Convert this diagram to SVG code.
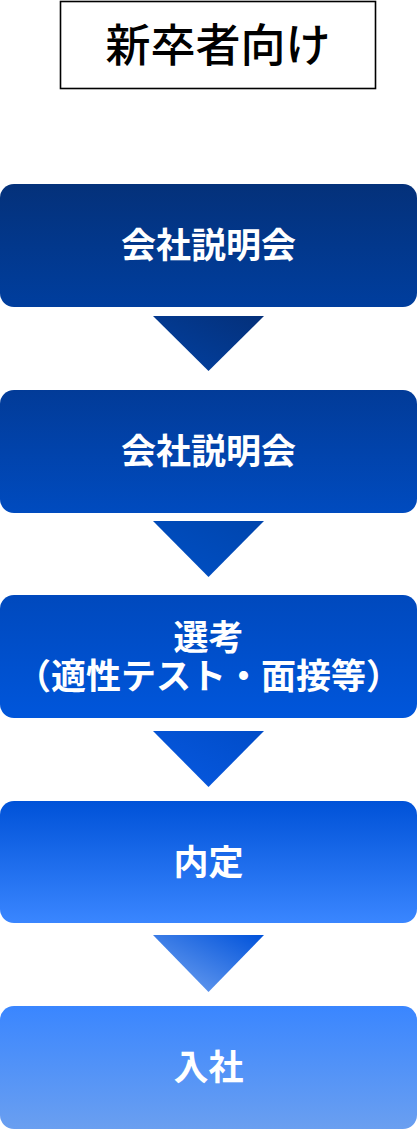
<svg xmlns="http://www.w3.org/2000/svg" width="417" height="1129" viewBox="0 0 417 1129">
<defs>
<linearGradient id="b1" x1="0" y1="0" x2="0" y2="1"><stop offset="0" stop-color="#04317a"/><stop offset="1" stop-color="#003e9e"/></linearGradient>
<linearGradient id="b2" x1="0" y1="0" x2="0" y2="1"><stop offset="0" stop-color="#023b98"/><stop offset="1" stop-color="#004bbf"/></linearGradient>
<linearGradient id="b3" x1="0" y1="0" x2="0" y2="1"><stop offset="0" stop-color="#0049bd"/><stop offset="1" stop-color="#0056db"/></linearGradient>
<linearGradient id="b4" x1="0" y1="0" x2="0" y2="1"><stop offset="0" stop-color="#0052d8"/><stop offset="1" stop-color="#3a86ff"/></linearGradient>
<linearGradient id="b5" x1="0" y1="0" x2="0" y2="1"><stop offset="0" stop-color="#3a86ff"/><stop offset="1" stop-color="#6a9ff0"/></linearGradient>
<linearGradient id="a1" x1="0" y1="1" x2="1" y2="0"><stop offset="0" stop-color="#0241a2"/><stop offset="1" stop-color="#04307a"/></linearGradient>
<linearGradient id="a2" x1="0" y1="1" x2="1" y2="0"><stop offset="0" stop-color="#0050c6"/><stop offset="1" stop-color="#0045ad"/></linearGradient>
<linearGradient id="a3" x1="0" y1="1" x2="1" y2="0"><stop offset="0" stop-color="#085ae2"/><stop offset="1" stop-color="#004cc8"/></linearGradient>
<linearGradient id="a4" x1="0" y1="1" x2="1" y2="0"><stop offset="0" stop-color="#76a6f2"/><stop offset="1" stop-color="#0052da"/></linearGradient>
</defs>
<style>
.lbl{font-family:"Noto Sans CJK JP","Noto Sans CJK SC",sans-serif;font-weight:700;font-size:35px;fill:#ffffff;text-anchor:middle}
.ttl{font-family:"Noto Sans CJK JP","Noto Sans CJK SC",sans-serif;font-weight:500;font-size:45px;fill:#000000;text-anchor:middle}
</style>
<g id="title">
<rect x="60.5" y="1.5" width="315" height="87" fill="#ffffff" stroke="#000000" stroke-width="1.6"/>
<text class="ttl" x="218" y="62">新卒者向け</text>
</g>
<g id="connectors">
<polygon points="153,316 264,316 208.5,371" fill="url(#a1)"/>
<polygon points="153,521 264,521 208.5,577" fill="url(#a2)"/>
<polygon points="153,731 264,731 208.5,787" fill="url(#a3)"/>
<polygon points="153,935 264,935 208.5,992" fill="url(#a4)"/>
</g>
<g id="node1">
<rect x="0" y="184" width="417" height="123" rx="14" fill="url(#b1)"/>
<text class="lbl" x="208.5" y="258">会社説明会</text>
</g>
<g id="node2">
<rect x="0" y="390" width="417" height="123" rx="14" fill="url(#b2)"/>
<text class="lbl" x="208.5" y="464">会社説明会</text>
</g>
<g id="node3">
<rect x="0" y="595" width="417" height="123" rx="14" fill="url(#b3)"/>
<text class="lbl" x="208.5" y="650">選考</text>
<text class="lbl" x="208.5" y="689">（適性テスト・面接等）</text>
</g>
<g id="node4">
<rect x="0" y="801" width="417" height="122" rx="14" fill="url(#b4)"/>
<text class="lbl" x="208.5" y="875">内定</text>
</g>
<g id="node5">
<rect x="0" y="1006" width="417" height="123" rx="14" fill="url(#b5)"/>
<text class="lbl" x="208.5" y="1080">入社</text>
</g>
</svg>
